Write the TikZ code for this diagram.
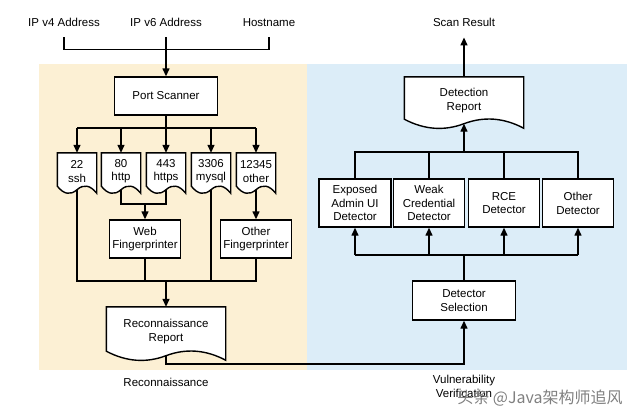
\documentclass[tikz,border=0pt]{standalone}
\usepackage{fontspec}
\setmainfont{Liberation Sans}
\newfontfamily\cjk{Noto Sans CJK SC}
\usetikzlibrary{arrows.meta,calc}
\pgfdeclarelayer{background}
\pgfdeclarelayer{docs}
\pgfsetlayers{background,docs,main}
\definecolor{panelY}{RGB}{252,240,212}
\definecolor{panelB}{RGB}{220,237,248}
\newcommand\docdraw[2]{%
 \draw[shp] (#1.north west) -- (#1.north east) -- ($(#1.south east)+(0pt,-0.5*#2pt)$)
  .. controls ($(#1.south west)!0.8333!(#1.south east)+(0pt,0.667*#2pt)$) and ($(#1.south west)!0.6667!(#1.south east)+(0pt,0.833*#2pt)$)
  .. (#1.south)
  .. controls ($(#1.south west)!0.3333!(#1.south east)+(0pt,-0.833*#2pt)$) and ($(#1.south west)!0.1667!(#1.south east)+(0pt,-0.667*#2pt)$)
  .. ($(#1.south west)+(0pt,0.5*#2pt)$) -- cycle;}
\begin{document}
\begin{tikzpicture}[x=1pt,y=-1pt,
  every node/.style={font=\fontsize{11.5}{13.8}\selectfont, align=center},
  shp/.style={draw=black, line width=1.4pt, fill=white, line join=miter},
  boxn/.style={draw=black, line width=1.4pt, fill=white, inner sep=0pt},
  docn/.style={draw=none, inner sep=0pt},
  lbl/.style={inner xsep=0pt, inner ysep=8pt, text height=8pt, text depth=2.5pt},
  ln/.style={line width=1.4pt},
  arr/.style={line width=1.4pt, -{Triangle[length=8pt,width=7pt]}}]
\useasboundingbox (0,0) rectangle (640,418);
\begin{pgfonlayer}{background}
\fill[panelY] (39,64) rectangle (307,370);
\fill[panelB] (307,64) rectangle (627,370);
\end{pgfonlayer}
% top labels
\node[lbl] (ipv4) at (64,24) {IP v4 Address};
\node[lbl] (ipv6) at (166,24) {IP v6 Address};
\node[lbl] (host) at (269,24) {Hostname};
\node[lbl] (scan) at (464,24) {Scan Result};
% boxes
\node[boxn, minimum width=103pt, minimum height=38pt] (ps) at (166,96) {Port Scanner};
\node[docn, minimum width=39pt, minimum height=36.5pt] (ssh) at (77,171.25) {22\\ssh};
\node[docn, minimum width=39pt, minimum height=36.5pt] (http) at (121,171.25) {80\\http};
\node[docn, minimum width=39pt, minimum height=36.5pt] (https) at (166,171.25) {443\\https};
\node[docn, minimum width=39pt, minimum height=36.5pt] (mysql) at (211,171.25) {3306\\mysql};
\node[docn, minimum width=39pt, minimum height=36.5pt] (other) at (256,171.25) {12345\\other};
\node[boxn, minimum width=71pt, minimum height=38pt] (webfp) at (145,239) {Web\\Fingerprinter};
\node[boxn, minimum width=71pt, minimum height=38pt] (otherfp) at (256,239) {Other\\Fingerprinter};
\node[docn, minimum width=119pt, minimum height=48.5pt] (recon) at (166,331.25) {Reconnaissance\\Report};
\node[boxn, minimum width=103pt, minimum height=39pt] (detsel) at (464,300.5) {Detector\\Selection};
\node[boxn, minimum width=72pt, minimum height=48pt] (d1) at (355,203) {Exposed\\Admin UI\\Detector};
\node[boxn, minimum width=71pt, minimum height=48pt] (d2) at (429,203) {Weak\\Credential\\Detector};
\node[boxn, minimum width=71pt, minimum height=48pt] (d3) at (504,203) {RCE\\Detector};
\node[boxn, minimum width=71pt, minimum height=48pt] (d4) at (578,203) {Other\\Detector};
\node[docn, minimum width=119pt, minimum height=46.5pt] (detrep) at (464,100.25) {Detection\\Report};
% document outlines
\begin{pgfonlayer}{docs}
\docdraw{ssh}{7}
\docdraw{http}{7}
\docdraw{https}{7}
\docdraw{mysql}{7}
\docdraw{other}{7}
\docdraw{recon}{9}
\docdraw{detrep}{9}
\end{pgfonlayer}
% bottom labels
\node (reconlbl) at (166,382) {Reconnaissance};
\node (vulnlbl) at (464,386) {Vulnerability\\Verification};
% coordinates
\coordinate (b1) at (166,128);
\coordinate (wj) at (145,204);
\coordinate (b2) at (166,281);
\coordinate (b3) at (464,364);
\coordinate (b4) at (464,255);
\coordinate (b5) at (464,152);
% connectors
\draw[ln] (ipv4.south) -- ++(0,12) -| (host.south);
\draw[arr] (ipv6.south) -- (ps.north);
\draw[ln] (ps.south) -- (b1);
\draw[ln] (ssh.north |- b1) -- (other.north |- b1);
\draw[arr] (ssh.north |- b1) -- (ssh.north);
\draw[arr] (http.north |- b1) -- (http.north);
\draw[arr] (b1) -- (https.north);
\draw[arr] (mysql.north |- b1) -- (mysql.north);
\draw[arr] (other.north |- b1) -- (other.north);
\draw[ln] (http.south) |- (wj) -| (https.south);
\draw[arr] (wj) -- (webfp.north);
\draw[arr] (other.south) -- (otherfp.north);
\draw[ln] (ssh.south) |- (otherfp.south |- b2) -- (otherfp.south);
\draw[ln] (webfp.south) -- (webfp.south |- b2);
\draw[ln] (mysql.south) -- (mysql.south |- b2);
\draw[arr] (b2) -- (recon.north);
\draw[arr] (recon.south) |- (b3) -- (detsel.south);
\draw[ln] (detsel.north) -- (b4);
\draw[ln] (d1.south |- b4) -- (d4.south |- b4);
\draw[arr] (d1.south |- b4) -- (d1.south);
\draw[arr] (d2.south |- b4) -- (d2.south);
\draw[arr] (d3.south |- b4) -- (d3.south);
\draw[arr] (d4.south |- b4) -- (d4.south);
\draw[ln] (d1.north) |- (d4.north |- b5) -- (d4.north);
\draw[ln] (d2.north) -- (d2.north |- b5);
\draw[ln] (d3.north) -- (d3.north |- b5);
\draw[arr] (b5) -- (detrep.south);
\draw[arr] (detrep.north) -- (scan.south);
% watermark
\node[text=black!50, font=\cjk\fontsize{16}{18}\selectfont] (wm) at (540,398) {头条 @Java架构师追风};
\end{tikzpicture}
\end{document}
